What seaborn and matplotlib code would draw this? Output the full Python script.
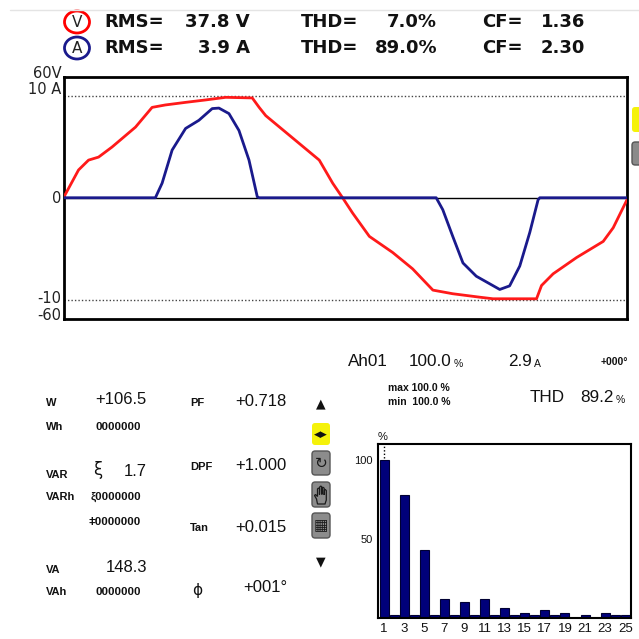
import matplotlib
matplotlib.use("Agg")
import matplotlib.pyplot as plt
import seaborn as sns
from matplotlib import font_manager as fm
from matplotlib.patches import Ellipse, FancyBboxPatch, Polygon
from matplotlib.transforms import ScaledTranslation

# waveform, one cycle (phase in degrees)
volt_phase = [0, 9.6, 16, 22.4, 31, 46, 56.6, 65, 78, 90.8, 103.6, 120.6, 125, 129.2,
              163.4, 172, 178.3, 184.7, 195.4, 210.3, 223, 236, 248.7, 265.8, 274.4,
              302.2, 305.4, 312.8, 327.8, 344.8, 351.2, 360]
volt_values = [0, 13.8, 18.7, 20.2, 25.2, 35.1, 44.9, 46.1, 47.4, 48.6, 49.9, 49.6, 44.9, 40.8,
               18.7, 7.2, 0, -7.6, -19.2, -27.2, -35.3, -45.9, -47.7, -49.4, -50.2,
               -50.2, -43.6, -37.8, -29.7, -21.7, -14.9, -1.0]
amp_phase = [0, 58.7, 63, 69.4, 78, 86.5, 95, 99.3, 105.7, 112.1, 118.5, 123.8, 125,
             238.1, 242.3, 248.7, 255.2, 263.7, 278.7, 285, 291.5, 297.9, 303.2, 304.3, 360]
amp_values = [0, 0, 1.43, 4.68, 6.8, 7.6, 8.75, 8.8, 8.26, 6.6, 3.7, 0.1, 0,
              0, -1.17, -3.8, -6.4, -7.7, -9.0, -8.65, -6.7, -3.4, -0.2, 0, 0]
V_FULL = 60
A_FULL = 11.85
wave_tick_values = [A_FULL, 10, 0, -10, -A_FULL]
wave_tick_labels = ["60V", "10 A", "0", "-10", "-60"]

# harmonic spectrum of current
harmonics = [str(h) for h in range(1, 26)]
harm_pct = [100, 2, 78, 2, 43, 2, 12, 2, 10, 2, 12, 2, 6, 2, 3, 2, 5, 2, 3, 0, 2, 0, 3, 2, 2]
harm_ticks = [str(h) for h in range(1, 26, 2)]

# readings
header_rows = [
    ("V", "red", "37.8 V", "7.0%", "1.36"),
    ("A", "#1a1a8c", "3.9 A", "89.0%", "2.30"),
]
power_labels = ["W", "Wh", "VAR", "VARh", "", "VA", "VAh"]
power_values = ["+106.5", "0000000", "1.7", "ξ0000000", "ǂ0000000", "148.3", "0000000"]
factor_labels = ["PF", "DPF", "Tan", "ϕ"]
factor_values = ["+0.718", "+1.000", "+0.015", "+001°"]

W = H = 639
def fx(x):
    return x / W
def fy(y):
    return 1 - y / H

sns.set_style("white")
plt.rcParams["font.family"] = ["DejaVu Sans"]

# narrow font for the meter panel if there is one
names = {f.name for f in fm.fontManager.ttflist}
NARROW = "Liberation Sans Narrow" if "Liberation Sans Narrow" in names else "Liberation Sans"
NS = 1.15 if NARROW == "Liberation Sans Narrow" else 1.0

fig = plt.figure(figsize=(6.39, 6.39), dpi=100)

def put(x, y, s, size, ha="left", **kw):
    kw.setdefault("color", "#111111")
    fig.text(fx(x), fy(y), s, fontsize=size, ha=ha, va="center", **kw)

def box(x0, y0, x1, y1, face, edge="none"):
    fig.add_artist(FancyBboxPatch((fx(x0), fy(y1)), (x1 - x0) / W, (y1 - y0) / H,
                                  boxstyle="round,pad=0,rounding_size=0.005",
                                  transform=fig.transFigure, facecolor=face,
                                  edgecolor=edge, lw=1))

# faint top rule
fig.add_artist(plt.Line2D([fx(10), fx(639)], [fy(10), fy(10)], color="#e4e4e4", lw=1))

# header
hdr = dict(family="DejaVu Sans", weight="bold")
for (sym, col, rms, thd, cf), y in zip(header_rows, [22, 48]):
    fig.add_artist(Ellipse((fx(77), fy(y)), 25 / W, 22 / H, transform=fig.transFigure,
                           fill=False, edgecolor=col, lw=2))
    put(77, y + 0.5, sym, 11, ha="center", family="DejaVu Sans", color="#222222")
    put(104, y, "RMS=", 13, **hdr)
    put(250, y, rms, 13, ha="right", **hdr)
    put(301, y, "THD=", 13, **hdr)
    put(437, y, thd, 13, ha="right", **hdr)
    put(482, y, "CF=", 13, **hdr)
    put(585, y, cf, 13, ha="right", **hdr)

# waveform
ax_w = fig.add_axes([fx(63.5), fy(318.5), (627 - 63.5) / W, (318.5 - 77) / H])
ax_w.axhline(0, color="black", lw=1, zorder=1)
for lvl in (10, -10):
    ax_w.axhline(lvl, color="#444444", lw=1, ls=(0, (1, 1.5)), zorder=1)
sns.lineplot(x=volt_phase, y=[v * A_FULL / V_FULL for v in volt_values], ax=ax_w,
             color="#ff1a1a", lw=2, estimator=None, zorder=3)
sns.lineplot(x=amp_phase, y=amp_values, ax=ax_w, color="#1a1a8c", lw=2,
             estimator=None, zorder=4)
ax_w.set_xlim(0, 360)
ax_w.set_ylim(-A_FULL, A_FULL)
ax_w.set_xticks([])
ax_w.set_yticks(wave_tick_values)
ax_w.set_yticklabels(wave_tick_labels, fontsize=10.5, family="DejaVu Sans", color="#222222")
ax_w.tick_params(axis="y", length=0, pad=1.5)
shifts = [5, 8, 1, 3, 4]
for lab, dy in zip(ax_w.get_yticklabels(), shifts):
    lab.set_transform(lab.get_transform() + ScaledTranslation(0, dy / 100, fig.dpi_scale_trans))
for sp in ax_w.spines.values():
    sp.set_color("black")
    sp.set_linewidth(2)

# partial icons at right edge
box(632, 107, 642, 132, "#f5f20a")
box(632, 142, 642, 165, "#8a8a8a", "#555555")

# meter panel: power
lab_kw = dict(weight="bold", family=NARROW)
lab_y = [403, 427, 475, 497, 522, 570, 592]
for lab, val, y in zip(power_labels, power_values, lab_y):
    if lab:
        put(46, y, lab, 8 * NS, **lab_kw)
    if val.startswith("+") or "." in val:
        put(147, y - 3, val, 12 * NS, ha="right", family=NARROW)
    else:
        put(141, y, val, 8.2 * NS, ha="right", **lab_kw)
put(98, 470, "ξ", 12, ha="center", family="DejaVu Sans")

fac_y = [403, 467, 528, 590]
val_y = [402, 465, 527, 588]
for lab, val, y1, y2 in zip(factor_labels, factor_values, fac_y, val_y):
    if lab == "ϕ":
        put(197, y1, lab, 11, ha="center", family="DejaVu Sans")
    else:
        put(190, y1, lab, 8 * NS, **lab_kw)
    put(287, y2, val, 12 * NS, ha="right", family=NARROW)

# icon column
put(321, 404, "▲", 9, ha="center", family="DejaVu Sans")
put(321, 562, "▼", 9, ha="center", family="DejaVu Sans")
box(312, 423, 330, 445, "#f5f20a")
put(321, 434, "◀▶", 6.5, ha="center", family="DejaVu Sans")
for top, bot in [(451, 475), (482, 507), (513, 538)]:
    box(312, top, 330, bot, "#8c8c8c", "#555555")
put(321, 463, "↻", 11, ha="center", family="DejaVu Sans", color="#1a1a1a")
put(321, 525.5, "▦", 11, ha="center", family="DejaVu Sans", color="#1a1a1a")
# open-hand icon (no installed font has the glyph)
hand = [(317.5, 504), (316.5, 499), (314.5, 495.5), (315.5, 494.5), (317.5, 496.5),
        (317.5, 489), (318.5, 488), (319.5, 489), (319.5, 494.5), (319.7, 487),
        (320.8, 486), (321.9, 487), (321.9, 494.5), (322.1, 488), (323.2, 487.3),
        (324.2, 488.3), (324.2, 495), (324.4, 490), (325.4, 489.6), (326.3, 490.6),
        (326.3, 500), (325, 504)]
fig.add_artist(Polygon([(fx(a), fy(b)) for a, b in hand], closed=True, transform=fig.transFigure,
                       facecolor="#8c8c8c", edgecolor="#1a1a1a", lw=0.9))

# harmonic readout
big = dict(family="Liberation Sans")
small = dict(family=NARROW, weight="bold")
put(348, 362, "Ah01", 12.3, **big)
put(452, 362, "100.0", 12.3, ha="right", **big)
put(454, 364, "%", 7.5, **big)
put(532, 362, "2.9", 12.3, ha="right", **big)
put(534, 364, "A", 7.5, **big)
put(628, 362, "+000°", 7.5 * NS, ha="right", **small)
put(388, 388, "max 100.0 %", 7.5 * NS, **small)
put(388, 402, "min  100.0 %", 7.5 * NS, **small)
put(530, 398, "THD", 12.3, **big)
put(614, 398, "89.2", 12.3, ha="right", **big)
put(616, 400, "%", 7.5, **big)

# spectrum
ax_b = fig.add_axes([fx(378), fy(617.7), (631 - 378) / W, (617.7 - 444) / H])
sns.barplot(x=harmonics, y=harm_pct, ax=ax_b, color="#00007a", saturation=1,
            width=0.9, edgecolor="#000033", linewidth=0.8)
ax_b.vlines(0, 101, 110, colors="black", linestyles=(0, (1, 1.5)), lw=1)
ax_b.set_xlim(-0.6, 24.57)
ax_b.set_ylim(0, 110)
ax_b.set_xticks([harmonics.index(t) for t in harm_ticks])
ax_b.set_xticklabels(harm_ticks, fontsize=9.5, family="Liberation Sans", color="#111111")
ax_b.set_yticks([50, 100])
ax_b.set_yticklabels(["50", "100"], fontsize=8, family="Liberation Sans", color="#111111")
ax_b.tick_params(axis="both", length=3, width=1, pad=1, direction="out")
ax_b.set_xlabel("")
ax_b.set_ylabel("")
for sp in ax_b.spines.values():
    sp.set_color("black")
    sp.set_linewidth(1.5)
put(383, 437, "%", 8, ha="center", family="Liberation Sans")

fig.savefig("out.png", dpi=100)
